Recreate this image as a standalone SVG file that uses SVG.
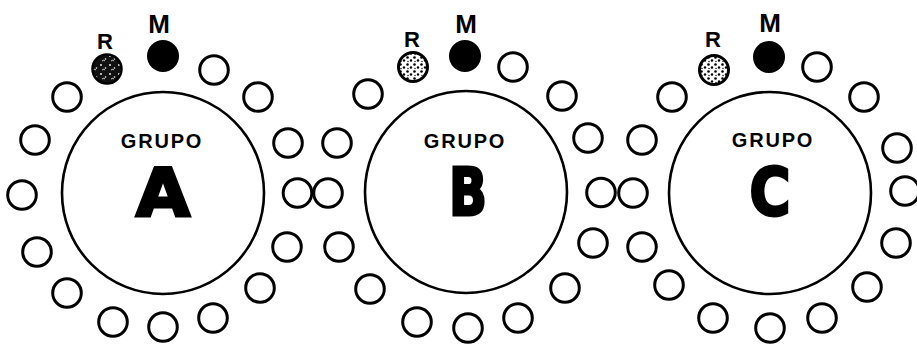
<svg xmlns="http://www.w3.org/2000/svg" width="917" height="344" viewBox="0 0 917 344">
<style>
.seat{fill:#fff;stroke:#000;stroke-width:3}
.big{fill:#fff;stroke:#000;stroke-width:2.6}
.m{fill:#000}
.rd{fill:url(#stipDark);stroke:#000;stroke-width:2.5}
.rl{fill:url(#stipLight);stroke:#000;stroke-width:3}
.lbl{font-family:"Liberation Sans",Arial,sans-serif;font-weight:bold;fill:#000;text-anchor:middle}
.grupo{font-size:20px;letter-spacing:1.8px}
.mt{font-size:26px}
.rt{font-size:22px}
.let{font-family:"DejaVu Sans","Liberation Sans",sans-serif;font-weight:bold;font-size:66px;fill:#000;stroke:#000;stroke-width:3;stroke-linejoin:miter}
</style>
<defs>
<pattern id="stipDark" width="9" height="9" patternUnits="userSpaceOnUse">
<rect width="9" height="9" fill="#111"/>
<circle cx="2" cy="2" r="0.9" fill="#fff"/>
<circle cx="6.5" cy="5" r="0.8" fill="#fff"/>
<path d="M3 7 q2 -1.5 3 0" stroke="#fff" stroke-width="0.8" fill="none"/>
</pattern>
<pattern id="stipLight" width="7" height="7" patternUnits="userSpaceOnUse">
<rect width="7" height="7" fill="#fff"/>
<circle cx="1.5" cy="1.5" r="1.3" fill="#000"/>
<circle cx="5" cy="4.5" r="1.2" fill="#000"/>
<circle cx="2" cy="5.5" r="0.7" fill="#000"/>
</pattern>
</defs>
<g id="connectors"></g>
<g id="grupo-a">
<circle class="big" cx="163" cy="193" r="101"/>
<text class="lbl grupo" x="162" y="148">GRUPO</text>
<text class="let" x="163" y="216" text-anchor="middle" textLength="54" lengthAdjust="spacingAndGlyphs">A</text>
<text class="lbl mt" x="159" y="33">M</text>
<circle class="m" cx="163" cy="56" r="16"/>
<text class="lbl rt" x="105" y="49">R</text>
<circle class="rd" cx="107" cy="69" r="14.5"/>
<circle class="seat" cx="214" cy="70" r="14.3"/>
<circle class="seat" cx="258" cy="97" r="14.3"/>
<circle class="seat" cx="288" cy="143" r="14.3"/>
<circle class="seat" cx="297.5" cy="193" r="14.3"/>
<circle class="seat" cx="287" cy="247" r="14.3"/>
<circle class="seat" cx="260" cy="288" r="14.3"/>
<circle class="seat" cx="213" cy="318" r="14.3"/>
<circle class="seat" cx="163" cy="327" r="14.3"/>
<circle class="seat" cx="113" cy="322" r="14.3"/>
<circle class="seat" cx="67" cy="293" r="14.3"/>
<circle class="seat" cx="37" cy="252" r="14.3"/>
<circle class="seat" cx="22" cy="195" r="14.3"/>
<circle class="seat" cx="35" cy="140" r="14.3"/>
<circle class="seat" cx="67" cy="97" r="14.3"/>
</g>
<g id="grupo-b">
<circle class="big" cx="466" cy="192" r="101"/>
<text class="lbl grupo" x="465" y="148">GRUPO</text>
<text class="let" x="468" y="215" text-anchor="middle" textLength="38" lengthAdjust="spacingAndGlyphs">B</text>
<text class="lbl mt" x="466" y="33">M</text>
<circle class="m" cx="465" cy="56" r="16"/>
<text class="lbl rt" x="412" y="47">R</text>
<circle class="rl" cx="413" cy="67" r="14.5"/>
<circle class="seat" cx="513" cy="67" r="14.3"/>
<circle class="seat" cx="562" cy="96" r="14.3"/>
<circle class="seat" cx="588" cy="138" r="14.3"/>
<circle class="seat" cx="601" cy="192.5" r="14.3"/>
<circle class="seat" cx="593" cy="243" r="14.3"/>
<circle class="seat" cx="565" cy="288" r="14.3"/>
<circle class="seat" cx="518" cy="318" r="14.3"/>
<circle class="seat" cx="468" cy="328" r="14.3"/>
<circle class="seat" cx="417" cy="322" r="14.3"/>
<circle class="seat" cx="370" cy="289" r="14.3"/>
<circle class="seat" cx="339" cy="247" r="14.3"/>
<circle class="seat" cx="328" cy="193" r="14.3"/>
<circle class="seat" cx="337" cy="143" r="14.3"/>
<circle class="seat" cx="368" cy="94" r="14.3"/>
</g>
<g id="grupo-c">
<circle class="big" cx="770" cy="193" r="101"/>
<text class="lbl grupo" x="773" y="147">GRUPO</text>
<text class="let" x="770" y="215" text-anchor="middle" textLength="41" lengthAdjust="spacingAndGlyphs">C</text>
<text class="lbl mt" x="770" y="32">M</text>
<circle class="m" cx="769" cy="57" r="16"/>
<text class="lbl rt" x="713" y="47">R</text>
<circle class="rl" cx="714" cy="70" r="14.5"/>
<circle class="seat" cx="817" cy="67" r="14.3"/>
<circle class="seat" cx="864" cy="97" r="14.3"/>
<circle class="seat" cx="897" cy="148" r="14.3"/>
<circle class="seat" cx="905" cy="191" r="14.3"/>
<circle class="seat" cx="896" cy="243" r="14.3"/>
<circle class="seat" cx="867" cy="287" r="14.3"/>
<circle class="seat" cx="822" cy="318" r="14.3"/>
<circle class="seat" cx="770" cy="328" r="14.3"/>
<circle class="seat" cx="713" cy="318" r="14.3"/>
<circle class="seat" cx="669" cy="285" r="14.3"/>
<circle class="seat" cx="642" cy="247" r="14.3"/>
<circle class="seat" cx="633" cy="193" r="14.3"/>
<circle class="seat" cx="642" cy="140" r="14.3"/>
<circle class="seat" cx="672" cy="97" r="14.3"/>
</g>
</svg>
